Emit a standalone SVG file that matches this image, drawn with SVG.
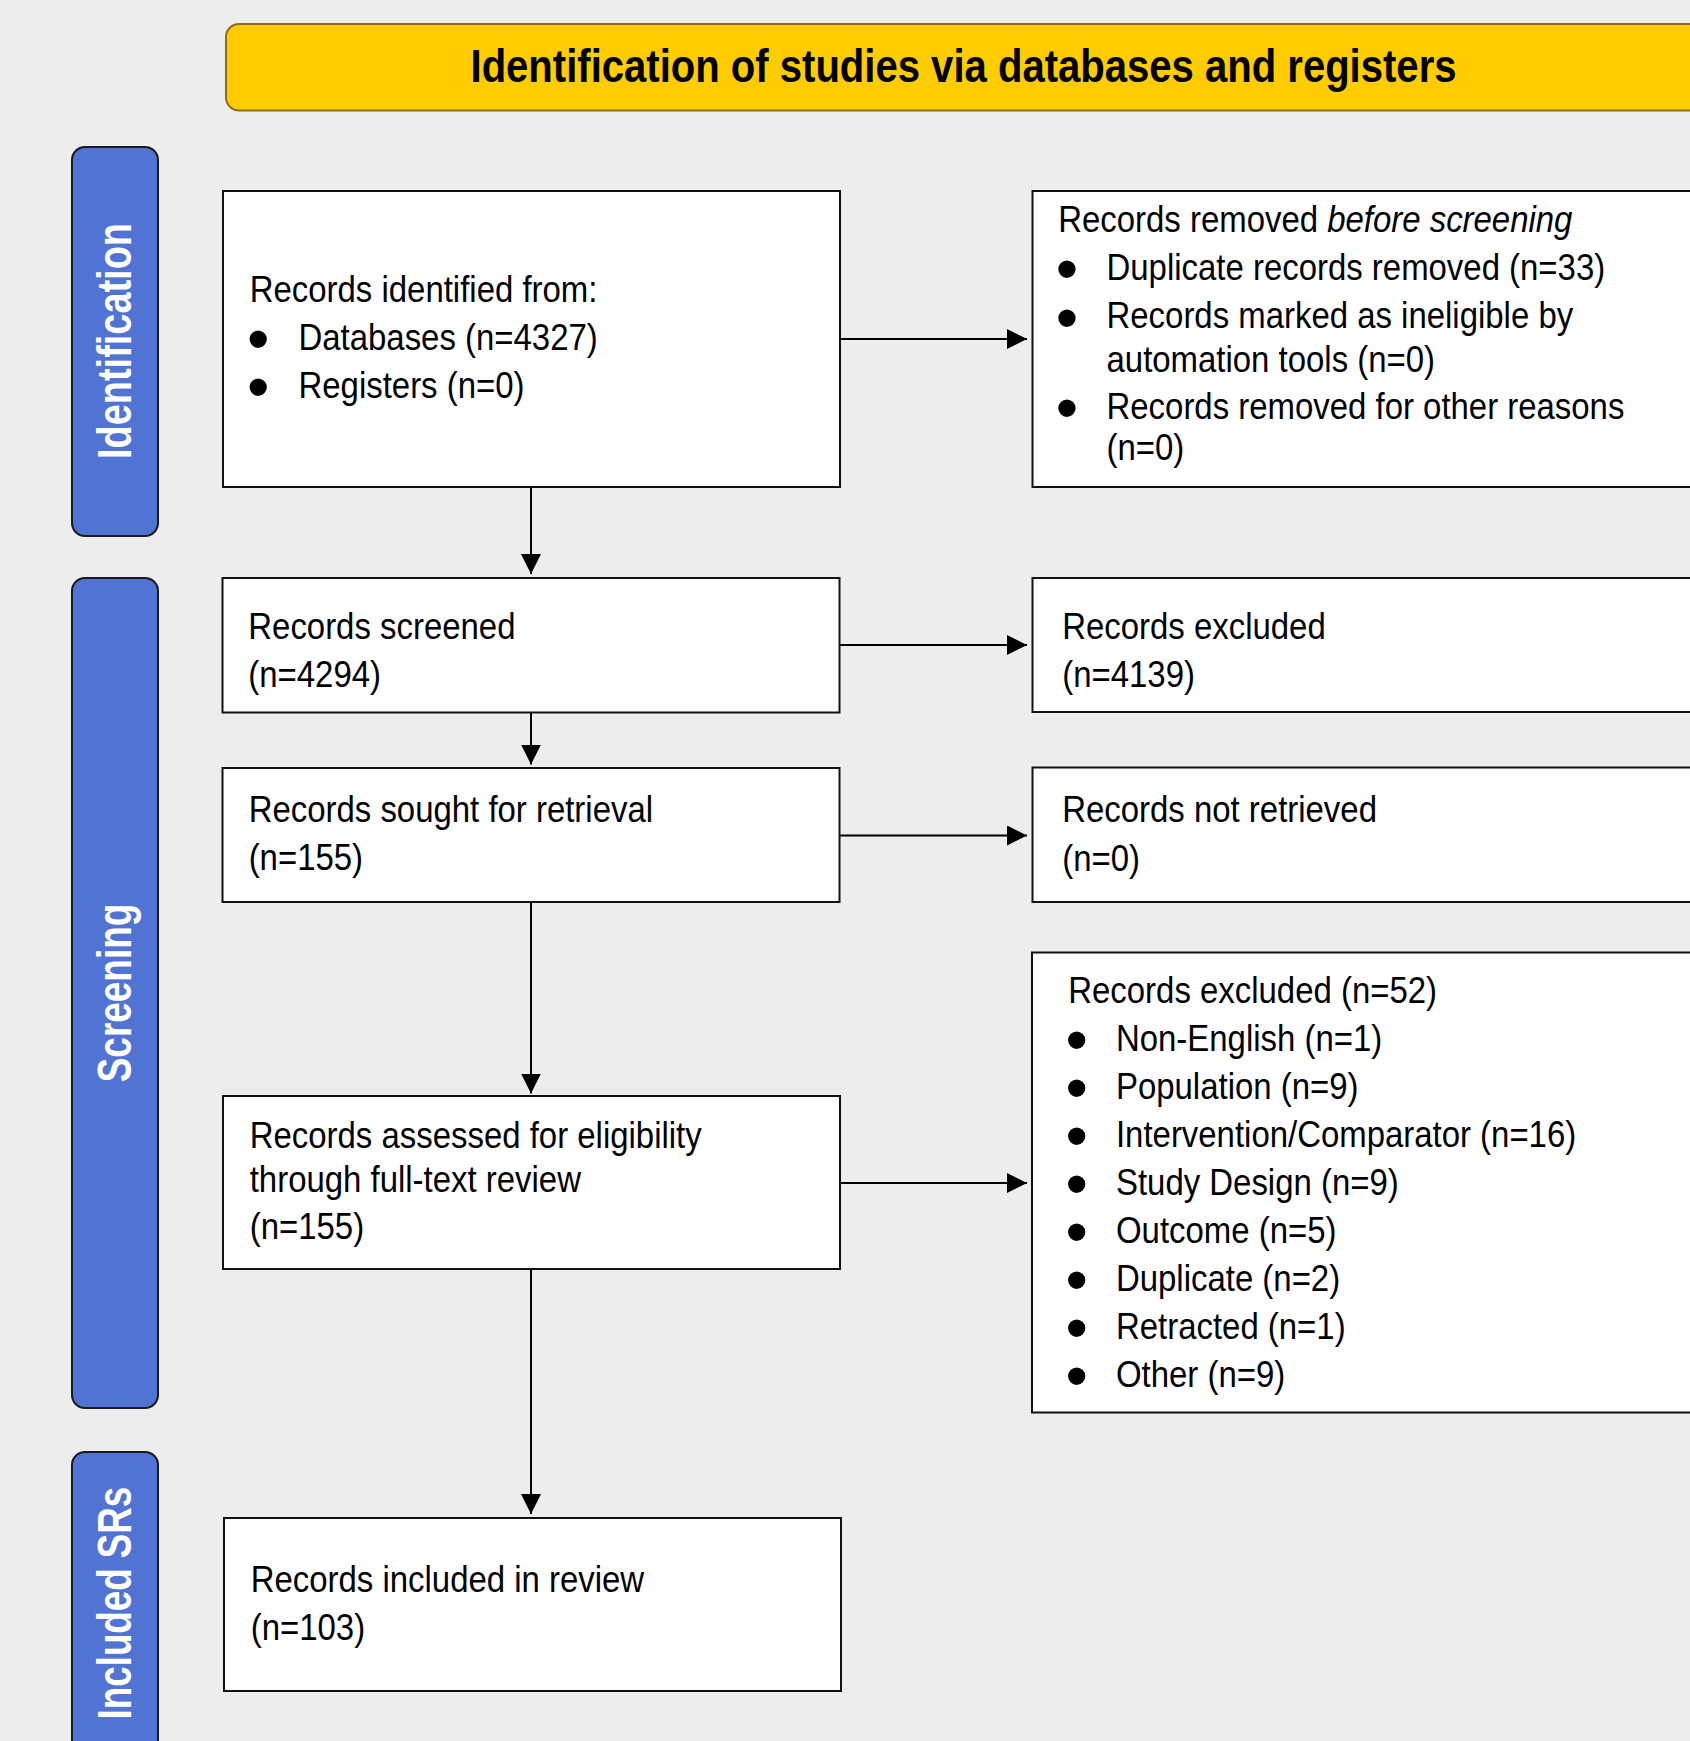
<svg xmlns="http://www.w3.org/2000/svg" width="1690" height="1741" viewBox="0 0 1690 1741">
<defs>
<marker id="ah" markerUnits="userSpaceOnUse" markerWidth="20" markerHeight="20" refX="20" refY="10" orient="auto"><path d="M0,0 L20,10 L0,20 z" fill="#000"/></marker>
<style>
.box{fill:#fff;stroke:#111;stroke-width:2}
.side{fill:#5174d4;stroke:#1a1a1a;stroke-width:2}
.t{font-family:"Liberation Sans",Arial,sans-serif;font-size:37px;fill:#000}
.b{font-family:"Liberation Sans",Arial,sans-serif;font-size:64px;fill:#000;text-anchor:middle}
.st{font-family:"Liberation Sans",Arial,sans-serif;font-size:48px;font-weight:bold;fill:#fff}
.conn{stroke:#000;stroke-width:2;fill:none;marker-end:url(#ah)}
</style>
</defs>
<rect width="1690" height="1741" fill="#ededed"/>

<g id="title">
<rect x="226" y="24" width="1500" height="86.5" rx="13" fill="#ffcc00" stroke="#8c6d1f" stroke-width="2"/>
<text x="470.5" y="82" textLength="986" lengthAdjust="spacingAndGlyphs" font-family="Liberation Sans, Arial, sans-serif" font-size="46" font-weight="bold" fill="#000">Identification of studies via databases and registers</text>
</g>

<g id="side-identification">
<rect class="side" x="72" y="147" width="86" height="389" rx="13"/>
<text class="st" transform="translate(131,341) rotate(-90)" x="-118" y="0" textLength="236" lengthAdjust="spacingAndGlyphs">Identification</text>
</g>
<g id="side-screening">
<rect class="side" x="72" y="578" width="86" height="830" rx="13"/>
<text class="st" transform="translate(131,993) rotate(-90)" x="-89.25" y="0" textLength="178.5" lengthAdjust="spacingAndGlyphs">Screening</text>
</g>
<g id="side-included">
<rect class="side" x="72" y="1452" width="86" height="302" rx="13"/>
<text class="st" transform="translate(131,1603) rotate(-90)" x="-116.4" y="0" textLength="232.7" lengthAdjust="spacingAndGlyphs">Included SRs</text>
</g>

<g id="connectors">
<path class="conn" d="M840,339 H1027"/>
<path class="conn" d="M839.5,645 H1027"/>
<path class="conn" d="M839.5,835.5 H1027"/>
<path class="conn" d="M840,1183 H1027"/>
<path class="conn" d="M531,487 V574"/>
<path class="conn" d="M531,712 V764.5"/>
<path class="conn" d="M531,902 V1093.5"/>
<path class="conn" d="M531,1269 V1514"/>
</g>

<g id="n-identified">
<rect class="box" x="223" y="191" width="617" height="296"/>
<text class="t" transform="scale(0.89,1)" x="280.6" y="302">Records identified from:</text>
<text class="b" x="258.3" y="361.2">•</text>
<text class="t" transform="scale(0.89,1)" x="335.4" y="350">Databases (n=4327)</text>
<text class="b" x="258.3" y="409.2">•</text>
<text class="t" transform="scale(0.89,1)" x="335.4" y="398">Registers (n=0)</text>
</g>

<g id="n-removed">
<rect class="box" x="1032.5" y="191" width="700" height="296"/>
<text class="t" transform="scale(0.89,1)" x="1189" y="232.5">Records removed <tspan font-style="italic">before screening</tspan></text>
<text class="b" x="1067" y="291.2">•</text>
<text class="t" transform="scale(0.89,1)" x="1243.3" y="280">Duplicate records removed (n=33)</text>
<text class="b" x="1067" y="339.5">•</text>
<text class="t" transform="scale(0.89,1)" x="1243.3" y="328.3">Records marked as ineligible by</text>
<text class="t" transform="scale(0.89,1)" x="1243.3" y="371.7">automation tools (n=0)</text>
<text class="b" x="1067" y="430.2">•</text>
<text class="t" transform="scale(0.89,1)" x="1243.3" y="419">Records removed for other reasons</text>
<text class="t" transform="scale(0.89,1)" x="1243.3" y="460.5">(n=0)</text>
</g>

<g id="n-screened">
<rect class="box" x="222.5" y="578" width="617" height="134.5"/>
<text class="t" transform="scale(0.89,1)" x="279" y="639">Records screened</text>
<text class="t" transform="scale(0.89,1)" x="279" y="686.7">(n=4294)</text>
</g>

<g id="n-excluded1">
<rect class="box" x="1032.5" y="578" width="700" height="134"/>
<text class="t" transform="scale(0.89,1)" x="1193.5" y="639.5">Records excluded</text>
<text class="t" transform="scale(0.89,1)" x="1193.5" y="687.2">(n=4139)</text>
</g>

<g id="n-sought">
<rect class="box" x="222.5" y="768" width="617" height="134"/>
<text class="t" transform="scale(0.89,1)" x="279.4" y="821.7">Records sought for retrieval</text>
<text class="t" transform="scale(0.89,1)" x="279.4" y="870">(n=155)</text>
</g>

<g id="n-notretrieved">
<rect class="box" x="1032.5" y="767.5" width="700" height="134.5"/>
<text class="t" transform="scale(0.89,1)" x="1193.5" y="822.5">Records not retrieved</text>
<text class="t" transform="scale(0.89,1)" x="1193.5" y="870.7">(n=0)</text>
</g>

<g id="n-assessed">
<rect class="box" x="223" y="1096" width="617" height="173"/>
<text class="t" transform="scale(0.89,1)" x="280.6" y="1148.4">Records assessed for eligibility</text>
<text class="t" transform="scale(0.89,1)" x="280.6" y="1191.7">through full-text review</text>
<text class="t" transform="scale(0.89,1)" x="280.6" y="1238.6">(n=155)</text>
</g>

<g id="n-excluded2">
<rect class="box" x="1032" y="952.5" width="700" height="460"/>
<text class="t" transform="scale(0.89,1)" x="1200.3" y="1002.7">Records excluded (n=52)</text>
<text class="b" x="1076.7" y="1061.9">•</text>
<text class="t" transform="scale(0.89,1)" x="1253.9" y="1050.7">Non-English (n=1)</text>
<text class="b" x="1076.7" y="1109.9">•</text>
<text class="t" transform="scale(0.89,1)" x="1253.9" y="1098.7">Population (n=9)</text>
<text class="b" x="1076.7" y="1157.9">•</text>
<text class="t" transform="scale(0.89,1)" x="1253.9" y="1146.7">Intervention/Comparator (n=16)</text>
<text class="b" x="1076.7" y="1205.9">•</text>
<text class="t" transform="scale(0.89,1)" x="1253.9" y="1194.7">Study Design (n=9)</text>
<text class="b" x="1076.7" y="1253.9">•</text>
<text class="t" transform="scale(0.89,1)" x="1253.9" y="1242.7">Outcome (n=5)</text>
<text class="b" x="1076.7" y="1301.9">•</text>
<text class="t" transform="scale(0.89,1)" x="1253.9" y="1290.7">Duplicate (n=2)</text>
<text class="b" x="1076.7" y="1349.9">•</text>
<text class="t" transform="scale(0.89,1)" x="1253.9" y="1338.7">Retracted (n=1)</text>
<text class="b" x="1076.7" y="1397.9">•</text>
<text class="t" transform="scale(0.89,1)" x="1253.9" y="1386.7">Other (n=9)</text>
</g>

<g id="n-included">
<rect class="box" x="224" y="1518" width="617" height="173"/>
<text class="t" transform="scale(0.89,1)" x="281.7" y="1591.7">Records included in review</text>
<text class="t" transform="scale(0.89,1)" x="281.7" y="1640">(n=103)</text>
</g>
</svg>
